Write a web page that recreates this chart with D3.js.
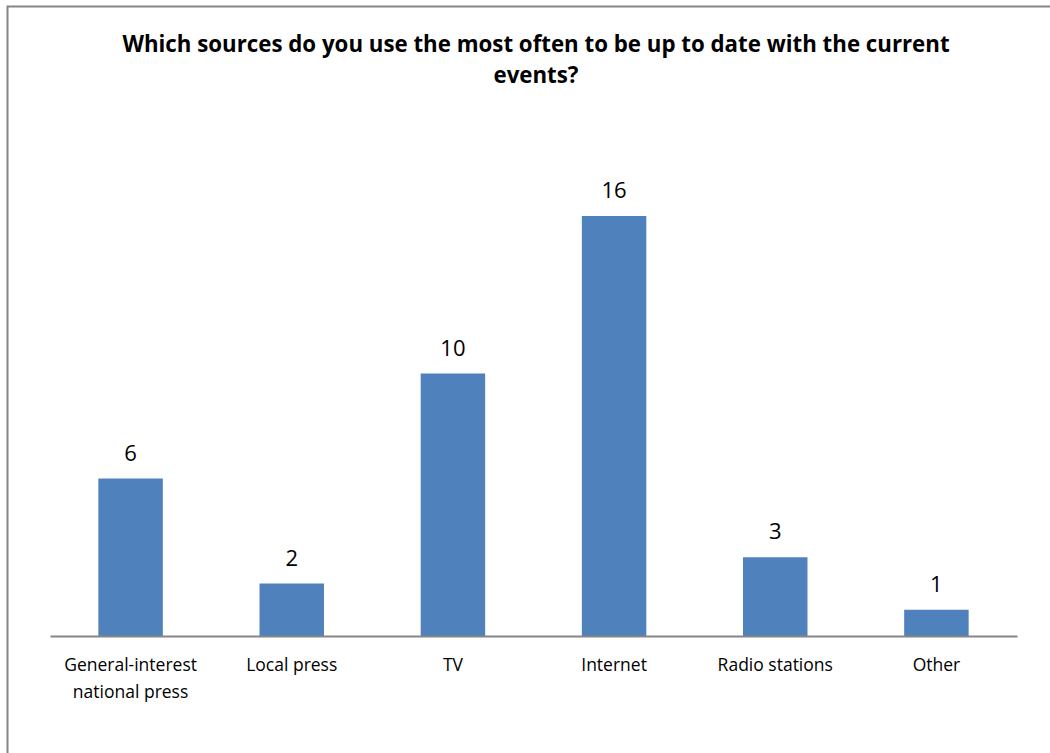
<!DOCTYPE html>
<html><head><meta charset="utf-8">
<script src="https://cdn.jsdelivr.net/npm/d3@7"></script>
<style>body{margin:0;background:#fff}svg{display:block}text{font-family:"Open Sans",sans-serif}</style>
</head><body><svg id="c" width="1050" height="753"></svg>
<script>
const categories = ["General-interest national press","Local press","TV","Internet","Radio stations","Other"];
const categoryLines = [["General-interest","national press"],["Local press"],["TV"],["Internet"],["Radio stations"],["Other"]];
const values = [6,2,10,16,3,1];
const titleLines = ["Which sources do you use the most often to be up to date with the current","events?"];

const svg = d3.select("#c");
svg.append("rect").attr("x",7.5).attr("y",6.5).attr("width",1100).attr("height",800)
  .attr("fill","#fff").attr("stroke","#868686").attr("stroke-width",2);

const left=50, right=1017, base=636;
const x = d3.scaleBand().domain(categories).range([left,right]).paddingInner(0.6).paddingOuter(0.3);
const y = d3.scaleLinear().domain([0,18]).range([base, base-18*26.25]);

const title = svg.append("g").selectAll("text").data(titleLines).join("text")
  .attr("x",536).attr("y",(d,i)=>52+i*31).attr("text-anchor","middle")
  .attr("font-weight","bold").attr("font-size",19).attr("fill","#000").text(d=>d);
const w0 = title.nodes()[0].getComputedTextLength();
title.attr("font-size",19*828/w0);

svg.append("g").selectAll("rect").data(values).join("rect")
  .attr("x",(d,i)=>x(categories[i])).attr("width",x.bandwidth())
  .attr("y",d=>y(d)).attr("height",d=>base-y(d)).attr("fill","#4F81BD");

svg.append("g").selectAll("text").data(values).join("text")
  .attr("x",(d,i)=>x(categories[i])+x.bandwidth()/2).attr("y",d=>y(d)-18)
  .attr("text-anchor","middle").attr("font-size",22).attr("fill","#000").text(d=>d);

const axis = svg.append("g").attr("transform",`translate(0,${base})`)
  .call(d3.axisBottom(x).tickSize(0).tickFormat(""));
axis.select(".domain").attr("stroke","#868686").attr("stroke-width",2);

const lab = svg.append("g");
categories.forEach((c,i)=>{
  const t = lab.append("text").attr("x",x(c)+x.bandwidth()/2).attr("y",671)
    .attr("text-anchor","middle").attr("font-size",17.5).attr("fill","#000");
  categoryLines[i].forEach((l,j)=>t.append("tspan").attr("x",x(c)+x.bandwidth()/2).attr("dy",j?27:0).text(l));
});
</script></body></html>
